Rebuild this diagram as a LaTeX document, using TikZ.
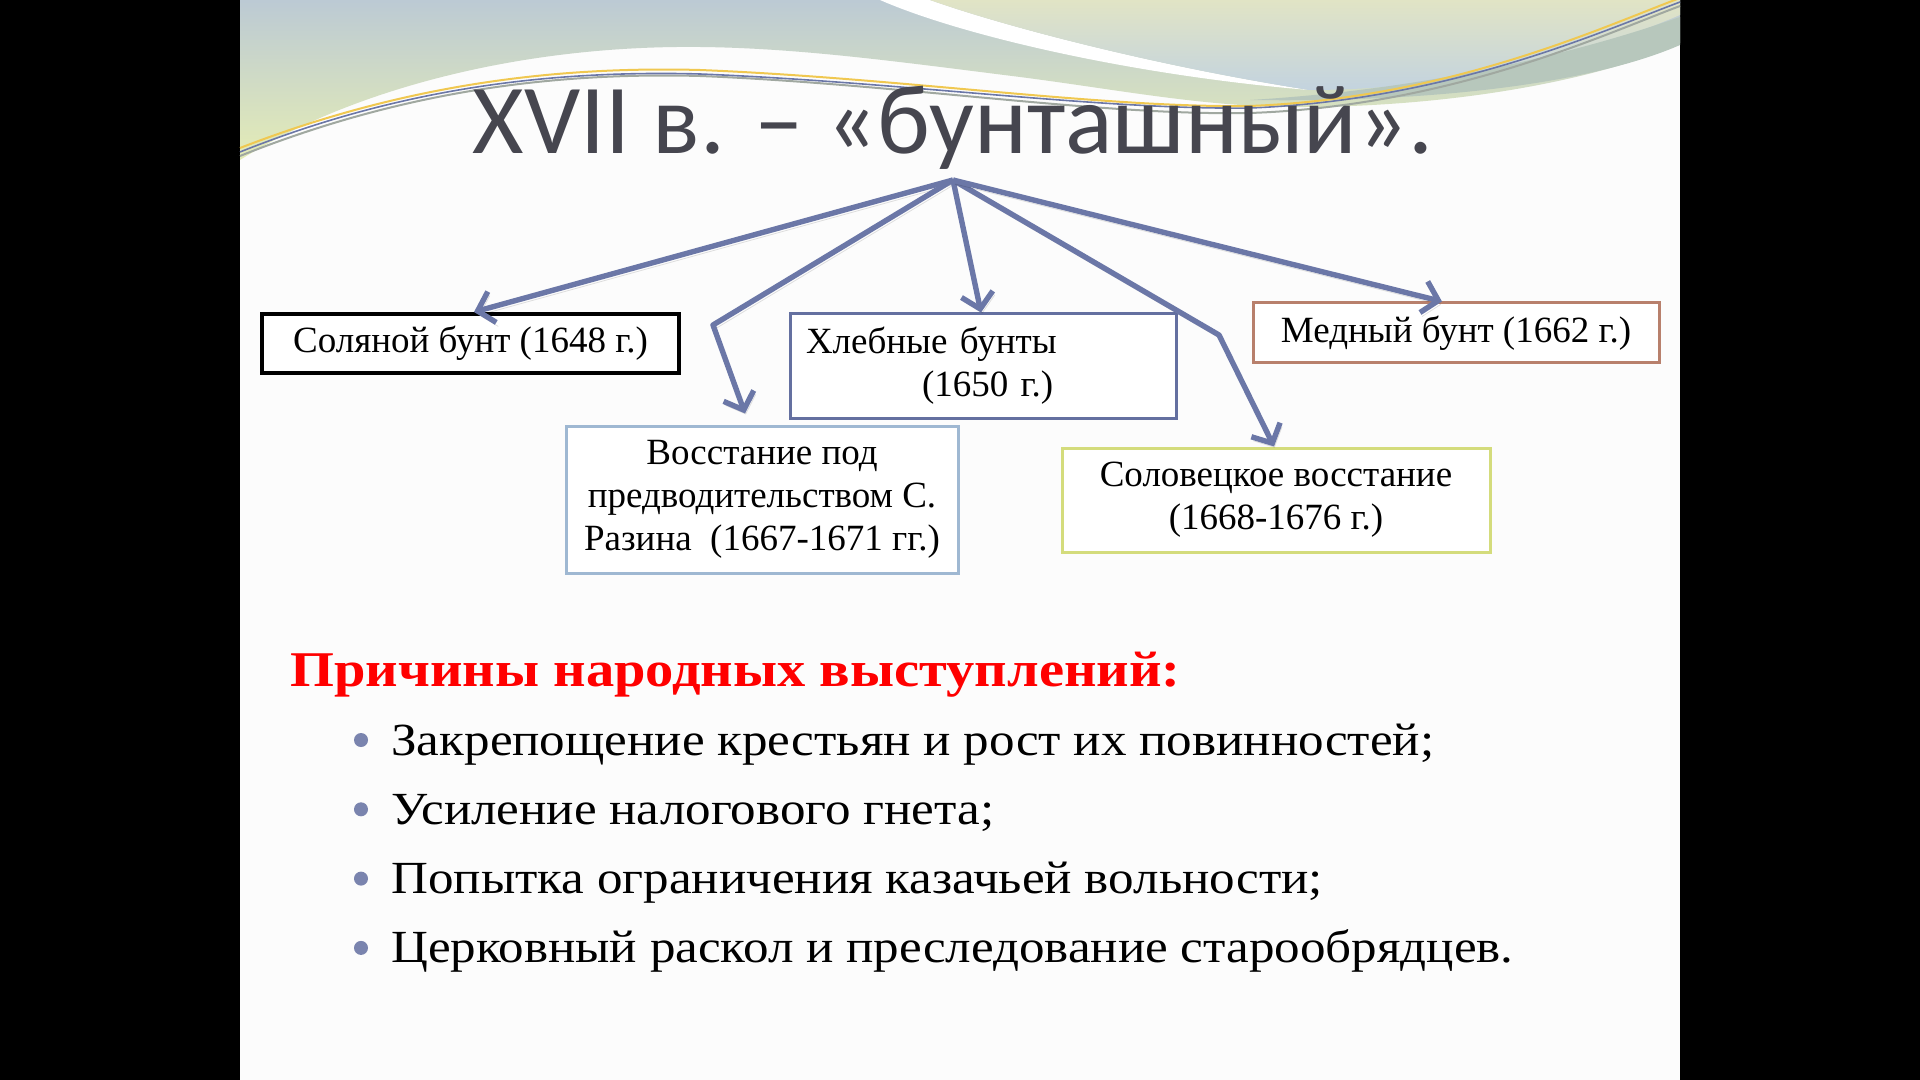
\documentclass[tikz,border=0pt]{standalone}
\usepackage{fontspec}
\setmainfont{Liberation Serif}
\newfontfamily\titlefont{Carlito}
\newfontfamily\bodyfont[FakeStretch=1.11]{Liberation Serif}
\newfontfamily\headfont[FakeStretch=1.13]{Liberation Serif}
\usetikzlibrary{arrows.meta}
\definecolor{slidebg}{HTML}{FCFCFC}
\definecolor{titlegray}{HTML}{46464F}
\definecolor{arrowblue}{HTML}{6B77A7}
\definecolor{bulletblue}{HTML}{7A84AE}
\definecolor{headred}{HTML}{FF0000}
\definecolor{khlebline}{HTML}{6470A0}
\definecolor{razinline}{HTML}{9FB8D2}
\definecolor{solovline}{HTML}{D4DC7C}
\definecolor{mednline}{HTML}{B8806C}
\definecolor{topblue}{HTML}{BCCAD4}
\definecolor{topgreen}{HTML}{E4ECB6}
\definecolor{rightgreen}{HTML}{E1E4C5}
\definecolor{rightblue}{HTML}{C3D3DF}
\definecolor{bandgreen}{HTML}{B7C7BC}
\definecolor{wireyellow}{HTML}{F0C850}
\definecolor{wiregray}{HTML}{A0A8A0}
\tikzset{
  event/.style={draw, line width=1.5pt, fill=white, inner sep=0pt, align=center,
    font=\fontsize{18.5pt}{21.5pt}\selectfont},
  branch/.style={draw=arrowblue, line width=2.7pt, line join=round,
    -{Straight Barb[length=7.5pt,width=16pt]},
    preaction={draw=black, opacity=0.12, transform canvas={shift={(1pt,-2pt)}}}},
}
\begin{document}
\begin{tikzpicture}[x=0.5pt,y=-0.5pt]
			%%%%% START %%%%%
			\useasboundingbox (0,0) rectangle (1920,1080);
			\fill[black] (0,0) rectangle (1920,1080);
			\fill[slidebg] (240,0) rectangle (1680,1080);
			
			% top waves
			\shade[top color=topblue, bottom color=topgreen] (240,0) -- (1680,0) -- (1680,43) .. controls (1600,80) and (1450,108) .. (1290,107) .. controls (1200,106) and (1120,90) .. (1020,77) .. controls (900,62) and (800,48) .. (700,47) .. controls (520,45) and (350,90) .. (240,160) -- cycle;
			\fill[white] (880,0) .. controls (960,35) and (1130,75) .. (1309,90) .. controls (1150,65) and (1000,25) .. (930,0) -- cycle;
			\shade[top color=rightgreen, bottom color=rightblue] (930,0) -- (1680,0) -- (1680,15) .. controls (1550,70) and (1420,90) .. (1309,90) .. controls (1150,65) and (1000,25) .. (930,0) -- cycle;
			\fill[bandgreen] (1250,100) .. controls (1450,88) and (1600,45) .. (1680,17) -- (1680,45) .. controls (1600,80) and (1450,103) .. (1250,100) -- cycle;
			\draw[wiregray, line width=1pt] (240,156) .. controls (400,92) and (550,72) .. (700,76) .. controls (900,84) and (1100,116) .. (1250,113) .. controls (1450,106) and (1600,36) .. (1680,6);
			\draw[arrowblue, line width=0.8pt] (240,152) .. controls (400,88) and (550,70) .. (700,74) .. controls (900,82) and (1100,110) .. (1250,108) .. controls (1450,100) and (1600,32) .. (1680,2);
			\draw[wireyellow, line width=1pt] (240,148) .. controls (400,86) and (550,66) .. (700,70) .. controls (900,78) and (1100,108) .. (1250,106) .. controls (1450,98) and (1600,28) .. (1680,-2);
			
			% title
			\node[anchor=base, font=\titlefont\fontsize{49.5pt}{50pt}\selectfont, text=titlegray] (title) at (953,154) {XVII в. – «бунташный».};
			
			% events
			\node[event, draw=black, line width=2pt, minimum width=208.5pt, minimum height=29.5pt] (soljanoj) at (470.5,343.5) {Соляной бунт (1648 г.)};
			\node[event, draw=khlebline, minimum width=193pt, minimum height=52pt, text width=177pt, align=left] (khleb) at (983,366) {Хлебные бунты\\\hspace*{58pt}(1650 г.)};
			\node[event, draw=mednline, minimum width=203pt, minimum height=30pt] (mednyj) at (1456,333) {Медный бунт (1662 г.)};
			\node[event, draw=razinline, minimum width=196pt, minimum height=73.5pt] (razin) at (762,499.5) {Восстание под\\предводительством С.\\Разина~~(1667-1671 гг.)};
			\node[event, draw=solovline, minimum width=214pt, minimum height=52pt] (solov) at (1276,500) {Соловецкое восстание\\(1668-1676 г.)};
			
			% arrows
			\coordinate (hub) at (953,180);
			\coordinate (razinbend) at (713,325);
			\coordinate (solovbend) at (1219,335);
			\draw[branch] (hub) -- ([xshift=1.75pt]soljanoj.north);
			\draw[branch] (hub) -- (razinbend) -- ([xshift=-8.5pt,yshift=5.5pt]razin.north);
			\draw[branch] (hub) -- ([xshift=-1pt]khleb.north);
			\draw[branch] (hub) -- (solovbend) -- ([xshift=-1pt]solov.north);
			\draw[branch] (hub) -- ([xshift=-7pt]mednyj.north);
			
			% causes
			\node[anchor=base west, inner sep=0pt, font=\headfont\bfseries\fontsize{25pt}{26pt}\selectfont, text=headred] (causes) at (290,686) {Причины народных выступлений:};
			\foreach \txt [count=\i] in {{Закрепощение крестьян и рост их повинностей;},{Усиление налогового гнета;},{Попытка ограничения казачьей вольности;},{Церковный раскол и преследование старообрядцев.}}{
				\fill[bulletblue] (361,{740+69.3*(\i-1)}) circle (3.5pt);
				\node[anchor=base west, inner sep=0pt, font=\bodyfont\fontsize{23pt}{24pt}\selectfont] (cause\i) at (391,{755+69.3*(\i-1)}) {\txt};
			}
			%%%%% END %%%%%
\end{tikzpicture}
\end{document}
